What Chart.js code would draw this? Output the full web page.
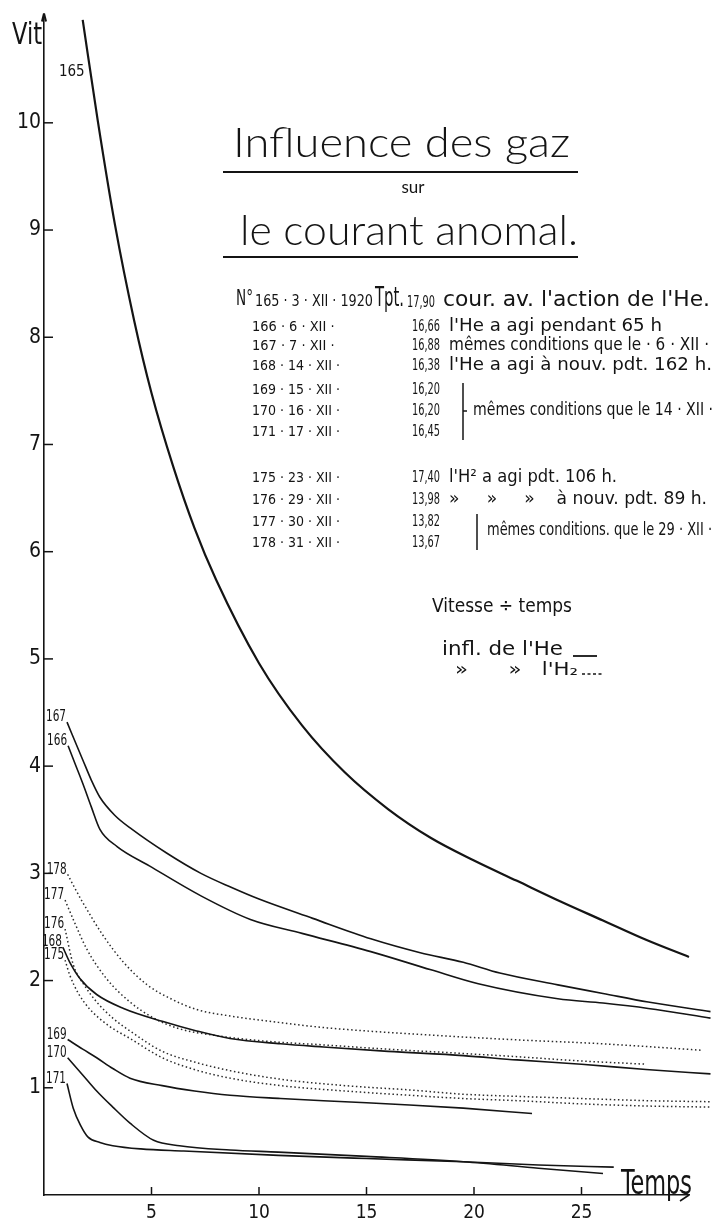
<!DOCTYPE html>
<html><head><meta charset="utf-8">
<script src="https://cdn.jsdelivr.net/npm/chart.js@4/dist/chart.umd.min.js"></script>
<style>html,body{margin:0;padding:0;background:#fff;}#wrap{width:727px;height:1230px;}</style>
</head><body><div id="wrap"><canvas id="c" width="727" height="1230"></canvas></div>
<script>
// ---- data (time, velocity) ----
const t165 = [1.8, 2.5, 3.3, 4.2, 5, 6, 7, 8, 10, 12, 14, 16, 18, 20, 22, 24, 26, 28, 30, 31];
const v165 = [10.96, 10.02, 9.05, 8.15, 7.48, 6.8, 6.22, 5.74, 4.96, 4.38, 3.94, 3.6, 3.33, 3.12, 2.93, 2.74, 2.56, 2.38, 2.22, 2.14];
const t166 = [1.12, 1.45, 1.8, 2.2, 2.6, 3.4, 4.9, 7.3, 9.6, 12, 15.2, 18, 20.2, 23.9, 26, 28.1, 31];
const v166 = [4.19, 4.02, 3.84, 3.62, 3.41, 3.25, 3.07, 2.79, 2.57, 2.44, 2.27, 2.10, 1.97, 1.83, 1.79, 1.74, 1.65];
const t167 = [1.07, 1.8, 2.2, 2.6, 3.3, 4.1, 5.7, 7.3, 8.7, 10, 12.5, 15.2, 17.5, 19.5, 21.2, 23.9, 26, 28.1, 31];
const v167 = [4.41, 4.06, 3.87, 3.71, 3.54, 3.41, 3.19, 3.0, 2.87, 2.76, 2.58, 2.39, 2.26, 2.17, 2.07, 1.96, 1.88, 1.80, 1.71];
const t168 = [0.88, 1.2, 1.67, 2.45, 3.7, 5.5, 7.1, 8.65, 11, 13, 16, 19.5, 22, 25, 28, 31];
const v168 = [2.31, 2.17, 2.02, 1.87, 1.74, 1.62, 1.53, 1.46, 1.41, 1.38, 1.34, 1.30, 1.26, 1.22, 1.17, 1.13];
const t169 = [1.1, 1.8, 2.45, 3.2, 4, 5.5, 7, 8.65, 11, 14, 17, 19.5, 22.7];
const v169 = [1.45, 1.36, 1.28, 1.18, 1.09, 1.02, 0.97, 0.93, 0.90, 0.87, 0.84, 0.81, 0.76];
const t170 = [1.1, 1.8, 2.45, 3.2, 4.0, 5.1, 6.3, 8.65, 10.9, 15, 19.5, 23, 26];
const v170 = [1.28, 1.12, 0.97, 0.82, 0.67, 0.51, 0.46, 0.42, 0.40, 0.36, 0.31, 0.25, 0.20];
const t171 = [1.07, 1.36, 1.7, 2.05, 2.6, 3.2, 4.5, 6.5, 10.9, 15, 19.5, 23, 26.5];
const v171 = [1.04, 0.81, 0.65, 0.54, 0.49, 0.46, 0.43, 0.41, 0.37, 0.34, 0.31, 0.28, 0.26];
const t175 = [0.98, 1.2, 1.6, 2.1, 3, 4, 5.5, 7, 8.65, 11, 14, 17, 19.5, 22, 25, 28, 31];
const v175 = [2.19, 2.05, 1.88, 1.74, 1.58, 1.46, 1.28, 1.17, 1.09, 1.02, 0.97, 0.93, 0.90, 0.88, 0.85, 0.83, 0.82];
const t176 = [0.98, 1.36, 1.9, 2.45, 3.2, 4, 5.5, 7, 8.65, 11, 14, 17, 19.5, 22, 25, 28, 31];
const v176 = [2.48, 2.15, 1.95, 1.80, 1.65, 1.53, 1.34, 1.24, 1.16, 1.08, 1.02, 0.98, 0.94, 0.92, 0.90, 0.88, 0.87];
const t177 = [0.98, 1.36, 2.0, 2.9, 4.0, 5.1, 6.3, 7.9, 10, 13, 16, 19.5, 22, 25, 28];
const v177 = [2.75, 2.57, 2.29, 2.02, 1.80, 1.65, 1.55, 1.49, 1.44, 1.40, 1.36, 1.32, 1.29, 1.25, 1.22];
const t178 = [1.1, 1.36, 1.8, 2.75, 3.7, 4.8, 5.9, 7.1, 8.65, 10.9, 13.1, 17.3, 21.7, 26, 30.6];
const v178 = [2.99, 2.89, 2.73, 2.42, 2.17, 1.96, 1.83, 1.73, 1.67, 1.61, 1.56, 1.50, 1.45, 1.41, 1.35];

const curveIds = ['165','166','167','168','169','170','171','175','176','177','178'];
const curveT = [t165,t166,t167,t168,t169,t170,t171,t175,t176,t177,t178];
const curveV = [v165,v166,v167,v168,v169,v170,v171,v175,v176,v177,v178];
const curveGas = ['He','He','He','He','He','He','He','H2','H2','H2','H2'];
const xTickValues = [5,10,15,20,25];
const yTickValues = [1,2,3,4,5,6,7,8,9,10];

// ---- styles ----
const FN = '"Liberation Sans Narrow","DejaVu Sans Condensed","Liberation Sans",sans-serif';
const FT = 'Lato,"Open Sans","DejaVu Sans",sans-serif';
const INK = '#141414';

const datasets = curveIds.map((id, i) => ({
  label: id,
  data: curveT[i].map((t, k) => ({x: t, y: curveV[i][k]})),
  showLine: true,
  pointRadius: 0,
  borderColor: curveGas[i] === 'He' ? INK : '#2a2a2a',
  borderWidth: id === '165' ? 2.2 : (curveGas[i] === 'He' ? 1.6 : 1.5),
  borderDash: curveGas[i] === 'He' ? [] : [1.5, 2.6],
  cubicInterpolationMode: 'monotone',
  clip: false
}));

function txt(ctx, s, x, y, size, o = {}) {
  ctx.save();
  ctx.font = (o.weight || 'normal') + ' ' + size + 'px ' + (o.family || FN);
  ctx.fillStyle = INK;
  ctx.textBaseline = o.baseline || 'middle';
  ctx.textAlign = o.align || 'left';
  if (o.width) {
    const w = ctx.measureText(s).width;
    ctx.translate(x, y);
    ctx.scale(o.width / w, 1);
    ctx.fillText(s, 0, 0);
  } else ctx.fillText(s, x, y);
  ctx.restore();
}
function seg(ctx, x1, y1, x2, y2, w, dash) {
  ctx.save();
  ctx.strokeStyle = INK; ctx.lineWidth = w || 1.5;
  ctx.setLineDash(dash || []);
  ctx.beginPath(); ctx.moveTo(x1, y1); ctx.lineTo(x2, y2); ctx.stroke();
  ctx.restore();
}

const decor = {
  id: 'decor',
  afterDraw(chart) {
    const {ctx, chartArea: a, scales: {x, y}} = chart;
    // inner tick marks
    xTickValues.forEach(v => { const px = x.getPixelForValue(v); seg(ctx, px, a.bottom, px, a.bottom - 8, 1.5); });
    yTickValues.forEach(v => { const py = y.getPixelForValue(v); seg(ctx, a.left, py, a.left + 9, py, 1.5); });
    // arrows
    seg(ctx, a.right - 9, a.bottom - 5, a.right, a.bottom, 1.6);
    seg(ctx, a.right - 9, a.bottom + 6, a.right, a.bottom, 1.6);
    seg(ctx, a.left - 2, a.top + 6, a.left, a.top - 2, 2);
    seg(ctx, a.left + 2, a.top + 6, a.left, a.top - 2, 2);
    // axis names
    txt(ctx, 'Vit', 12, 36, 30, {width: 30});
    txt(ctx, 'Temps', 621, 1194, 34, {baseline: 'alphabetic', width: 71});
    // curve labels
    curveIds.forEach((id, i) => {
      const px = x.getPixelForValue(curveT[i][0]);
      const py = y.getPixelForValue(curveV[i][0]);
      if (id === '165') txt(ctx, id, px + 2, py + 52, 15, {align: 'right'});
      else txt(ctx, id, px - 1, py - 5, 16, {align: 'right', width: 20});
    });
    // title
    txt(ctx, 'Influence des gaz', 233, 157, 42, {family: FT, weight: '300', baseline: 'alphabetic', width: 337});
    seg(ctx, 223, 172, 578, 172, 2);
    txt(ctx, 'sur', 413, 193, 17, {family: FT, align: 'center', baseline: 'alphabetic'});
    txt(ctx, 'le courant anomal.', 240, 245, 42, {family: FT, weight: '300', baseline: 'alphabetic', width: 338});
    seg(ctx, 223, 257, 578, 257, 2);
    // table
    txt(ctx, 'N°', 236, 300, 21, {width: 17});
    txt(ctx, '165 · 3 · XII · 1920', 255, 302, 15, {width: 118});
    txt(ctx, 'Tpt.', 375, 299, 26, {width: 29});
    txt(ctx, '17,90', 407, 303, 15, {width: 28});
    txt(ctx, "cour. av. l'action de l'He.", 443, 301, 21, {width: 267});
    const rows = [
      ['166 · 6 · XII ·', '16,66', "l'He a agi pendant 65 h", 327, 213],
      ['167 · 7 · XII ·', '16,88', 'mêmes conditions que le · 6 · XII ·', 346, 260],
      ['168 · 14 · XII ·', '16,38', "l'He a agi à nouv. pdt. 162 h.", 366, 263],
      ['169 · 15 · XII ·', '16,20', '', 390, 0],
      ['170 · 16 · XII ·', '16,20', '', 411, 0],
      ['171 · 17 · XII ·', '16,45', '', 432, 0],
      ['175 · 23 · XII ·', '17,40', "l'H² a agi pdt. 106 h.", 478, 168],
      ['176 · 29 · XII ·', '13,98', '»     »     »    à nouv. pdt. 89 h.', 500, 258],
      ['177 · 30 · XII ·', '13,82', '', 522, 0],
      ['178 · 31 · XII ·', '13,67', '', 543, 0]
    ];
    rows.forEach(r => {
      txt(ctx, r[0], 252, r[3], 14, {width: r[0].length * 5.5});
      txt(ctx, r[1], 412, r[3], 15, {width: 28});
      if (r[2]) txt(ctx, r[2], 449, r[3], 17, {width: r[4]});
    });
    // bracket 169-171
    seg(ctx, 463, 383, 463, 440, 1.5);
    seg(ctx, 463, 411, 467, 411, 1.5);
    txt(ctx, 'mêmes conditions que le 14 · XII ·', 473, 411, 17, {width: 240});
    // bracket 177-178
    seg(ctx, 477, 514, 477, 550, 1.5);
    txt(ctx, 'mêmes conditions. que le 29 · XII ·', 487, 531, 17, {width: 225});
    // key
    txt(ctx, 'Vitesse ÷ temps', 432, 607, 20, {width: 140});
    txt(ctx, "infl. de l'He", 442, 650, 20, {width: 121});
    seg(ctx, 573, 656, 597, 656, 1.8);
    txt(ctx, "»      »   l'H₂", 455, 671, 17, {width: 123});
    seg(ctx, 582, 674, 603, 674, 1.6, [3, 2.5]);
  }
};

new Chart(document.getElementById('c'), {
  type: 'scatter',
  data: {datasets},
  plugins: [decor],
  options: {
    responsive: false,
    animation: false,
    layout: {padding: {top: 6, right: 38, bottom: 0, left: 0}},
    plugins: {legend: {display: false}, tooltip: {enabled: false}, title: {display: false}},
    scales: {
      x: {
        type: 'linear', min: 0, max: 30,
        afterFit: s => { s.height = 35; },
        afterBuildTicks: s => { s.ticks = [0].concat(xTickValues).concat([30]).map(v => ({value: v})); },
        ticks: {callback: v => xTickValues.includes(v) ? String(v) : '', color: INK, padding: 7,
                font: {family: FN, size: 19}, maxRotation: 0, autoSkip: false},
        grid: {drawOnChartArea: false, drawTicks: false},
        border: {display: true, color: INK, width: 1.6}
      },
      y: {
        type: 'linear', min: 0, max: 11,
        afterFit: s => { s.width = 44; },
        afterBuildTicks: s => { s.ticks = [0].concat(yTickValues).concat([11]).map(v => ({value: v})); },
        ticks: {callback: v => yTickValues.includes(v) ? String(v) : '', color: INK, padding: 3,
                font: {family: FN, size: 21}, autoSkip: false},
        grid: {drawOnChartArea: false, drawTicks: false},
        border: {display: true, color: INK, width: 1.6}
      }
    }
  }
});
</script></body></html>
